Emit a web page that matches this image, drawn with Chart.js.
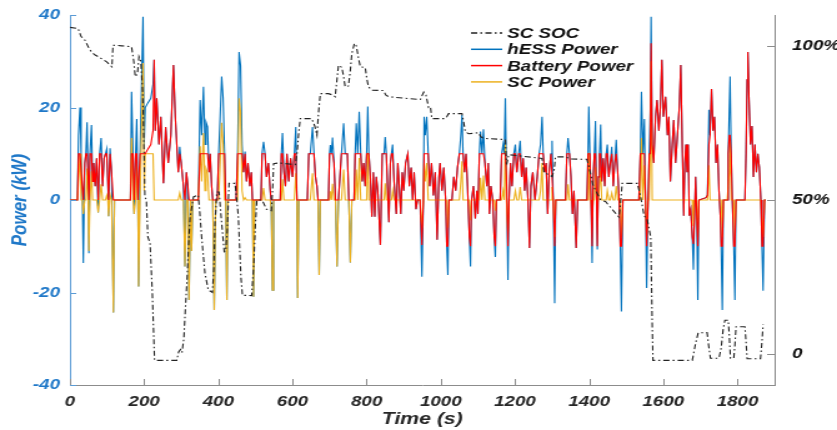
<!DOCTYPE html>
<html>
<head>
<meta charset="utf-8">
<script src="https://cdn.jsdelivr.net/npm/chart.js@4.4.1/dist/chart.umd.min.js"></script>
<style>
  html, body { margin: 0; padding: 0; background: #fff; overflow: hidden; }
  /* the figure is stretched sideways, so draw narrow and widen it */
  #wrap { width: 670px; height: 430px; transform: scaleX(1.2493); transform-origin: 0 0; }
</style>
</head>
<body>
<div id="wrap"><canvas id="chart"></canvas></div>
<script>
// Time axis (s), shared by the three power traces
const timeS = [
  0,20,23,27,30,33,36,40,43,46,
  49,51,54,58,61,64,68,72,76,80,
  84,88,92,96,99,102,104,108,112,117,
  120,163,166,170,173,177,180,183,185,189,
  193,197,200,203,210,218,224,227,230,234,
  240,245,252,258,265,272,279,284,292,296,
  300,306,310,314,318,321,325,328,331,346,
  351,355,360,364,367,371,375,378,382,385,
  389,393,397,401,405,409,413,417,420,423,
  426,448,452,456,460,464,468,472,476,480,
  485,489,492,495,498,515,518,522,526,530,
  535,540,543,546,549,567,570,573,577,581,
  585,590,595,600,605,609,612,614,617,640,
  644,648,654,658,662,666,669,672,675,697,
  700,702,705,708,712,716,720,724,732,738,
  742,748,752,756,760,766,769,772,776,780,
  784,788,792,796,800,803,806,810,814,818,
  822,826,830,837,842,847,850,853,856,860,
  864,867,870,874,880,884,888,892,896,900,
  905,911,915,920,924,928,933,937,944,949,
  953,955,958,962,966,970,975,980,985,990,
  995,998,1003,1008,1013,1016,1019,1022,1030,1035,
  1040,1045,1050,1054,1057,1060,1064,1068,1072,1077,
  1080,1083,1088,1093,1097,1100,1104,1107,1111,1115,
  1119,1124,1128,1131,1135,1140,1144,1147,1150,1160,
  1164,1168,1171,1174,1177,1181,1184,1188,1192,1197,
  1201,1205,1210,1214,1218,1222,1226,1230,1235,1239,
  1243,1248,1254,1260,1265,1269,1273,1276,1280,1284,
  1288,1292,1297,1300,1303,1307,1310,1336,1340,1343,
  1347,1351,1355,1359,1365,1369,1394,1397,1399,1402,
  1405,1408,1411,1414,1417,1420,1422,1425,1428,1431,
  1434,1438,1442,1446,1449,1453,1457,1461,1465,1469,
  1473,1477,1481,1484,1487,1491,1534,1538,1541,1545,
  1549,1552,1555,1559,1562,1565,1567,1570,1574,1579,
  1583,1588,1592,1596,1600,1606,1611,1615,1619,1624,
  1628,1633,1638,1643,1647,1651,1655,1658,1661,1664,
  1667,1670,1674,1678,1681,1684,1687,1690,1693,1696,
  1715,1719,1723,1726,1730,1734,1738,1742,1746,1750,
  1754,1756,1759,1762,1772,1775,1778,1780,1783,1786,
  1790,1793,1796,1820,1823,1826,1828,1831,1835,1839,
  1843,1847,1851,1855,1859,1863,1866,1869,1873,1876
];

// hESS power (kW)
const hessKW = [
  0,0,14,20,10,3,-13.6,8,10,16.8,
  5,-11.5,10,16.2,4,8,3,9,-2.7,10,
  13.4,3,9,10,11,4,-3.5,11.2,6,-24.3,
  0,0,23.4,10,-3,10,17.5,0,-18.7,10,
  25,39.6,12,20,21,22,25,30.3,15,22,
  12,18,3.6,15.8,8,14,29.2,18,6,11.5,
  8,3,-14.4,6,3,-21.6,0,-11,0,0,
  21.6,14,24.5,12,16.8,15.8,6,10,3,0,
  -23.8,0,0,10,18,26.7,22,10,0,-21.6,
  0,0,10,32,29,12,6,10.5,4,8,
  3,6,0,-20.9,0,0,10,12.6,10,5,
  8,2,-2,-19.5,0,0,10,14.5,6,3,
  10,4,9,5,10,15.8,0,-21.2,0,0,
  10,10,15.8,10,5,3,0,-16.2,0,0,
  10,11.9,10,13.5,8,0,-14.4,0,10,16.6,
  10,10,0,-13.5,0,0,10,16.6,10,19.1,
  10,4,8,3,10,20.2,10,5,-3.6,6,
  -3.6,5,2,-9.7,10,10,13.6,10,3,-4.8,
  8,10,12,4,-3,8,3,-3,6,2,
  8,10,3,7,0,6,-2,0,0,-16.6,
  0,18,14,18,10,3,8,1,6,-8.6,
  5,8,2,7,0,-10,-16.2,0,0,5,
  2,7,10,14,18.4,10,6,10,3,-8,
  -14.4,0,3,-4,2,-3,10,14.8,10,15.3,
  8,3,8,-3,3,0,-8,-12.3,0,0,
  10,12,10,22,5,-17.3,0,8,3,10,
  12,6,10,12.8,5,9,2,7,0,-10.4,
  3,6,0,5,10,12,18,10,6,8,
  -3,6,10,12.8,0,-22.3,0,0,10,13.4,
  10,5,-3,2,-10.4,0,0,10,20.2,10,
  0,-13.6,5,10,17.1,0,-10.7,5,10,16.3,
  4,9,3,10,12,5,8,11.5,3,8,
  13,6,0,-10,-24.1,0,0,10,23.4,10,
  17.5,0,-19,0,10,20,39.6,12,8,18,
  21.6,15,20,30.3,18,22.3,14,18,4,12,
  17.3,8,14,20,29.2,12,-3.4,8,12,6,
  12,-3.4,-2,-8,-15.1,-4,5,-3,-21.6,0,
  0.5,1,19.5,14,24,15,18,8,12,2,
  -4,-10,-23.8,0,0,10,20,26.7,10,0,
  -10,-21.6,0,0,10,26,32,22,12,16,
  5,12,6,10,7,0,-10,-19.6,0,0
];

// Battery power (kW)
const batteryKW = [
  0,0,10,10,10,3,0,8,10,10,
  5,0,10,10,4,8,3,9,0,10,
  10,3,9,10,10,4,0,10,6,0,
  0,0,10,10,0,10,10,0,0,10,
  10,10,10,10,11,12,15,30.3,15,22,
  12,18,3.6,15.8,8,14,29.2,18,6,10,
  8,3,0,6,3,0,0,0,0,0,
  10,10,10,10,10,10,6,10,3,0,
  0,0,0,10,10,10,10,10,0,0,
  0,0,10,10,10,10,6,10,4,8,
  3,6,0,0,0,0,10,10,10,5,
  8,2,0,0,0,0,10,10,6,3,
  10,4,9,5,10,10,0,0,0,0,
  10,10,10,10,5,3,0,0,0,0,
  10,10,10,10,8,0,0,0,10,10,
  10,10,0,0,0,0,10,10,10,10,
  10,4,8,3,10,10,10,5,-3.6,6,
  -3.6,5,2,-9.7,10,10,10,10,3,-4.8,
  8,10,10,4,-3,8,3,-3,6,2,
  8,10,3,7,0,6,-2,0,0,-9.7,
  0,10,10,10,10,3,8,1,6,-8.6,
  5,8,2,7,0,-10,-10,0,0,5,
  2,7,10,10,10,10,6,10,3,-8,
  -10,0,3,-4,2,-3,10,10,10,10,
  8,3,8,-3,3,0,-8,-10,0,0,
  10,10,10,10,5,-10,0,8,3,10,
  10,6,10,10,5,9,2,7,0,-10.4,
  3,6,0,5,10,10,10,10,6,8,
  -3,6,10,10,0,-10,0,0,10,10,
  10,5,-3,2,-10.4,0,0,10,10,10,
  0,-10,5,10,10,0,-10,5,10,10,
  4,9,3,10,10,5,8,10,3,8,
  10,6,0,-10,-10,0,0,10,10,10,
  10,0,-10,0,10,10,33.9,12,8,18,
  21.6,15,20,30.3,18,22.3,14,18,4,12,
  17.3,8,14,20,29.2,12,-3.4,8,12,6,
  12,-3.4,-2,-8,-9.5,-4,5,-3,-10,0,
  0.5,1,12,14,24,15,18,8,12,2,
  -4,-10,-10,0,0,10,14,14,10,0,
  -10,-10,0,0,10,26,32,22,12,16,
  5,12,6,10,7,0,-10,-10,0,0
];

// SC power (kW)
const scKW = [
  0,0,4,10,0,0,-3,0,0,6.8,
  0,-11,0,6.2,0,0,0,0,-2.7,0,
  3.4,0,0,0,1,0,-3.5,1.2,0,-24.3,
  0,0,13.4,0,-3,0,7.5,0,-18.7,0,
  15,29.6,2,10,10,10,10,0,0,0,
  0,0,0,0,0,0,0,0,0,1.5,
  0,0,-14.4,0,0,-21.6,0,-11,0,0,
  11.6,4,14.5,2,6.8,5.8,0,0,0,0,
  -23.8,0,0,0,8,16.7,12,0,0,-21.6,
  0,0,0,22,19,2,0,0.5,0,0,
  0,0,0,-20.9,0,0,0,2.6,0,0,
  0,0,-2,-19.5,0,0,0,4.5,0,0,
  0,0,0,0,0,5.8,0,-21.2,0,0,
  0,0,5.8,0,0,0,0,-16.2,0,0,
  0,1.9,0,3.5,0,0,-14.4,0,0,6.6,
  0,0,0,-13.5,0,0,0,6.6,0,9.1,
  0,0,0,0,0,10.2,0,0,0,0,
  0,0,0,0,0,0,3.6,0,0,0,
  0,0,2,0,0,0,0,0,0,0,
  0,0,0,0,0,0,0,0,0,-6,
  0,8,4,8,0,0,0,0,0,0,
  0,0,0,0,0,0,-6,0,0,0,
  0,0,0,4,8.4,0,0,0,0,0,
  -4.4,0,0,0,0,0,0,4.8,0,5.3,
  0,0,0,0,0,0,0,-2.3,0,0,
  0,2,0,12,0,-7,0,0,0,0,
  2,0,0,2.8,0,0,0,0,0,0,
  0,0,0,0,0,2,8,0,0,0,
  0,0,0,2.8,0,-8,0,0,0,3.4,
  0,0,0,0,0,0,0,0,10.2,0,
  0,-3.6,0,0,7.1,0,-0.7,0,0,6.3,
  0,0,0,0,2,0,0,1.5,0,0,
  3,0,0,0,-8,0,0,0,13.4,0,
  7.5,0,-8,0,0,10,30,0,0,0,
  0,0,0,0,0,0,0,0,0,0,
  0,0,0,0,0,0,0,0,0,0,
  0,0,0,0,-5.6,0,0,0,-8,0,
  0,0,7.5,0,0,0,0,0,0,0,
  0,0,-8,0,0,0,6,12.7,0,0,
  0,-8,0,0,0,0,0,0,0,0,
  0,0,0,0,0,0,0,-8,0,0
];

// SC state of charge (%), right axis
const socTime = [
  0,22,30,40,50,58,68,76,90,99,113,116,140,166,172,176,182,186,191,196,
  199,202,206,210,216,222,228,288,293,298,302,307,311,316,320,324,333,346,350,355,
  364,373,384,388,391,396,402,409,416,420,424,429,445,450,454,461,465,490,496,500,
  504,517,522,530,543,547,549,563,581,608,612,617,621,652,660,666,670,675,697,710,
  715,719,724,733,738,742,751,756,760,767,772,778,783,796,801,805,814,845,852,859,
  904,945,950,954,960,967,972,976,1012,1016,1021,1057,1062,1066,1075,1102,1108,1115,1174,1177,
  1178,1183,1273,1278,1300,1306,1309,1336,1349,1394,1403,1410,1417,1431,1444,1462,1480,1484,1489,1530,
  1539,1548,1557,1566,1570,1572,1678,1687,1694,1718,1722,1727,1750,1756,1761,1766,1775,1778,1781,1790,
  1793,1796,1820,1823,1826,1862,1866,1869
];
const socPct = [
  106,105.6,103,101.9,99.5,98,97,96.5,95.5,94.8,93.2,100.2,100,99.7,95,90,91,96.5,95,85,
  70,51,50,38,36,20,-2,-2,0.7,1.5,0.5,5,14.3,25,36,44.5,51,51.6,46,38,
  26.2,20.8,20,28,42.5,52.6,52.6,42.5,33.2,33.5,40,55.4,55.4,50,44.5,25,19.1,19,30,42,
  50,50,49,47,46.5,55,61.8,62,61.8,61.5,65,72,76.4,76.4,74,71,78,84.5,84.5,84,
  83.5,88,93.7,93,90,86.7,87,92,97.5,100.8,100,96,93.2,93,89,86.7,85.6,85.5,84,83.5,
  83,82.6,84,85,84,80,80.2,76.4,76.4,77,78,78,75,72.1,71.5,71.8,70.5,70,69.6,62,
  61.8,64.7,63.5,59,57.6,60,64,64,63.3,63.2,59,55,53.2,50,49.5,47,44.5,48,55.4,55.4,
  51,45,43.5,38,10,-2,-2,3.5,6.9,7,3,-1.3,-1.3,2,7.8,11,11,6,-1.3,-1.3,
  3,8.9,8.9,4,-1.5,-1.5,4,9.6
];

// Tick positions and labels
const timeTicks = [0, 200, 400, 600, 800, 1000, 1200, 1400, 1600, 1800];
const powerTicks = [-40, -20, 0, 20, 40];
const socTicks = [0, 50, 100];
const socTickLabels = ['0', '50%', '100%'];

const BLUE = '#0072BD';
const RED = '#FF0000';
const ORANGE = '#EDB120';
const FONT = '"Liberation Sans", Arial, sans-serif';

function toPoints(xs, ys) {
  return xs.map((x, i) => ({ x: x, y: ys[i] }));
}

// MATLAB style ticks point into the plot
const innerTicks = {
  id: 'innerTicks',
  afterDraw(chart) {
    const { ctx, chartArea: a, scales } = chart;
    ctx.save();
    ctx.lineWidth = 1;
    ctx.strokeStyle = '#5b9bd5';
    ctx.beginPath();
    powerTicks.forEach(v => {
      const y = Math.round(scales.y.getPixelForValue(v)) + 0.5;
      ctx.moveTo(a.left, y); ctx.lineTo(a.left + 5, y);
    });
    ctx.stroke();
    ctx.strokeStyle = '#8c8c8c';
    ctx.beginPath();
    timeTicks.forEach(v => {
      const x = Math.round(scales.x.getPixelForValue(v)) + 0.5;
      ctx.moveTo(x, a.bottom); ctx.lineTo(x, a.bottom - 6);
    });
    socTicks.forEach(v => {
      const y = Math.round(scales.soc.getPixelForValue(v)) + 0.5;
      ctx.moveTo(a.right, y); ctx.lineTo(a.right - 6, y);
    });
    ctx.stroke();
    ctx.restore();
  }
};

// Legend floating inside the plot
const floatLegend = {
  id: 'floatLegend',
  afterDraw(chart) {
    const ctx = chart.ctx;
    const x0 = 377, y0 = 33, row = 16.3;
    ctx.save();
    ctx.font = 'italic bold 15px ' + FONT;
    ctx.textBaseline = 'middle';
    chart.data.datasets.forEach((ds, i) => {
      const y = y0 + i * row;
      ctx.strokeStyle = ds.borderColor;
      ctx.lineWidth = 1.5;
      ctx.setLineDash(ds.borderDash || []);
      ctx.beginPath();
      ctx.moveTo(x0, y); ctx.lineTo(x0 + 25, y);
      ctx.stroke();
      ctx.setLineDash([]);
      ctx.fillStyle = '#111';
      ctx.fillText(ds.label, x0 + 29, y + 1);
    });
    ctx.restore();
  }
};

const tickFont = { family: FONT, size: 15, weight: 'bold', style: 'italic' };

new Chart(document.getElementById('chart'), {
  type: 'line',
  data: {
    datasets: [
      {
        label: 'SC SOC',
        data: toPoints(socTime, socPct),
        yAxisID: 'soc',
        borderColor: '#222',
        borderWidth: 1.1,
        borderDash: [5, 2.5, 1.5, 2.5],
        order: 0
      },
      {
        label: 'hESS Power',
        data: toPoints(timeS, hessKW),
        yAxisID: 'y',
        borderColor: BLUE,
        borderWidth: 1.1,
        order: 3
      },
      {
        label: 'Battery Power',
        data: toPoints(timeS, batteryKW),
        yAxisID: 'y',
        borderColor: RED,
        borderWidth: 1.1,
        order: 1
      },
      {
        label: 'SC Power',
        data: toPoints(timeS, scKW),
        yAxisID: 'y',
        borderColor: ORANGE,
        borderWidth: 1.1,
        order: 2
      }
    ]
  },
  options: {
    responsive: true,
    maintainAspectRatio: false,
    animation: false,
    events: [],
    elements: { point: { radius: 0 }, line: { tension: 0 } },
    layout: { padding: { top: 15, left: 0, right: 0, bottom: 0 } },
    plugins: { legend: { display: false }, tooltip: { enabled: false } },
    scales: {
      x: {
        type: 'linear',
        min: 0,
        max: 1900,
        afterBuildTicks: s => { s.ticks = timeTicks.map(v => ({ value: v })); },
        afterFit: s => { s.height = 45; },
        grid: { display: false },
        border: { color: '#8c8c8c', width: 1 },
        ticks: { padding: 0, color: '#262626', font: tickFont, maxRotation: 0, callback: v => String(v) },
        title: {
          display: true,
          text: 'Time (s)',
          color: '#262626',
          font: { family: FONT, size: 17, weight: 'bold', style: 'italic' },
          padding: { top: 0, bottom: 0 }
        }
      },
      y: {
        position: 'left',
        min: -40,
        max: 40,
        afterBuildTicks: s => { s.ticks = powerTicks.map(v => ({ value: v })); },
        afterFit: s => { s.width = 56; },
        grid: { display: false },
        border: { color: '#5b9bd5', width: 1 },
        ticks: { padding: 0, color: '#1f78c8', font: tickFont, callback: v => String(v) },
        title: {
          display: true,
          text: 'Power (kW)',
          color: '#1f78c8',
          font: { family: FONT, size: 17, weight: 'bold', style: 'italic' },
          padding: { top: 6, bottom: 0 }
        }
      },
      soc: {
        position: 'right',
        min: -10,
        max: 110,
        afterBuildTicks: s => { s.ticks = socTicks.map(v => ({ value: v })); },
        afterFit: s => { s.width = 50; },
        grid: { display: false },
        border: { color: '#8c8c8c', width: 1 },
        ticks: {
          padding: 6,
          color: '#111',
          font: tickFont,
          callback: (v) => socTickLabels[socTicks.indexOf(v)]
        }
      }
    }
  },
  plugins: [innerTicks, floatLegend]
});
</script>
</body>
</html>
